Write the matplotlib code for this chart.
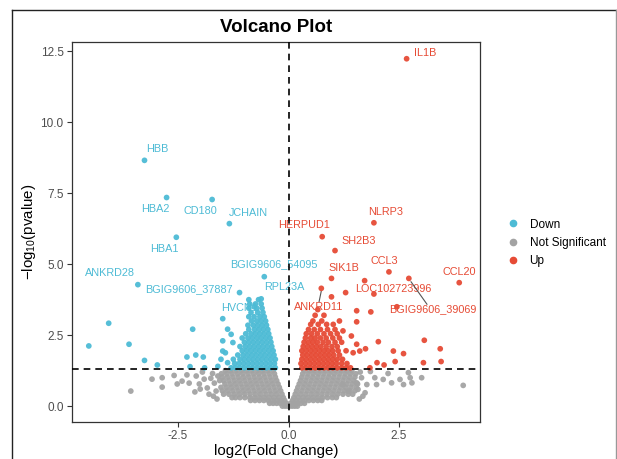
import matplotlib
matplotlib.use("Agg")
import matplotlib.pyplot as plt
from matplotlib.lines import Line2D

plt.rcParams['font.family'] = ['Liberation Sans', 'DejaVu Sans']
plt.rcParams['axes.unicode_minus'] = False
plt.rcParams['mathtext.fontset'] = 'custom'
plt.rcParams['mathtext.rm'] = 'Liberation Sans'
plt.rcParams['mathtext.it'] = 'Liberation Sans:italic'

COL_DOWN = "#4DBBD5"
COL_NS = "#A3A3A3"
COL_UP = "#E64B35"

# ---------------- data ----------------
# Not significant: dense rows (y level, x values) + scattered points
ns_row_y = [0.00, 0.10, 0.20, 0.30, 0.42, 0.54, 0.66, 0.78, 0.90, 1.02, 1.14, 1.25]
ns_row_x_left = [
    [-0.02, -0.08, -0.14],
    [-0.05, -0.12, -0.19, -0.27, -0.35, -0.43],
    [-0.09, -0.17, -0.26, -0.36, -0.46, -0.56, -0.66, -0.76, -0.86],
    [-0.12, -0.22, -0.33, -0.44, -0.55, -0.66, -0.77, -0.88, -0.99, -1.10, -1.20, -1.28],
    [-0.15, -0.27, -0.39, -0.51, -0.63, -0.75, -0.87, -0.99, -1.11, -1.23, -1.35, -1.47],
    [-0.18, -0.30, -0.42, -0.54, -0.66, -0.78, -0.90, -1.02, -1.14, -1.26, -1.38, -1.50],
    [-0.21, -0.33, -0.45, -0.57, -0.69, -0.81, -0.93, -1.05, -1.17, -1.29, -1.41, -1.53],
    [-0.24, -0.36, -0.48, -0.60, -0.72, -0.84, -0.96, -1.08, -1.20, -1.32, -1.44],
    [-0.27, -0.39, -0.51, -0.63, -0.75, -0.87, -0.99, -1.11, -1.23, -1.35, -1.47, -1.56],
    [-0.30, -0.42, -0.54, -0.66, -0.78, -0.90, -1.02, -1.14, -1.26, -1.38, -1.50],
    [-0.32, -0.44, -0.56, -0.68, -0.80, -0.92, -1.04, -1.16, -1.28, -1.40, -1.52],
    [-0.35, -0.47, -0.59, -0.71, -0.83, -0.95, -1.07, -1.19, -1.31, -1.43],
]
ns_row_x_right = [
    [0.02, 0.08, 0.14, 0.20],
    [0.05, 0.12, 0.20, 0.28, 0.36],
    [0.09, 0.17, 0.26, 0.36, 0.46, 0.56, 0.66, 0.75],
    [0.12, 0.22, 0.33, 0.44, 0.55, 0.66, 0.77, 0.88, 0.99, 1.08],
    [0.15, 0.27, 0.39, 0.51, 0.63, 0.75, 0.87, 0.99, 1.11, 1.23, 1.35, 1.45],
    [0.18, 0.30, 0.42, 0.54, 0.66, 0.78, 0.90, 1.02, 1.14, 1.26, 1.38, 1.50],
    [0.21, 0.33, 0.45, 0.57, 0.69, 0.81, 0.93, 1.05, 1.17, 1.29, 1.41, 1.53],
    [0.24, 0.36, 0.48, 0.60, 0.72, 0.84, 0.96, 1.08, 1.20, 1.32, 1.44, 1.56],
    [0.27, 0.39, 0.51, 0.63, 0.75, 0.87, 0.99, 1.11, 1.23, 1.35, 1.47],
    [0.30, 0.42, 0.54, 0.66, 0.78, 0.90, 1.02, 1.14, 1.26, 1.38, 1.50],
    [0.32, 0.44, 0.56, 0.68, 0.80, 0.92, 1.04, 1.16, 1.28, 1.40, 1.52],
    [0.35, 0.47, 0.59, 0.71, 0.83, 0.95, 1.07, 1.19, 1.31, 1.43],
]
ns_sc_x = [-3.57, -3.09, -2.86, -2.86, -2.59, -2.52, -2.41, -2.25, -2.09, -2.12, -2.02,
           -1.91, -1.84, -1.80, -1.68, -1.64, -1.60, -1.72, -1.95, -2.30, -1.76, -2.00,
           -1.70, -1.62,
           1.23, 1.35, 1.54, 1.57, 1.65, 1.73, 1.77, 1.95, 1.99, 2.14, 2.33, 2.52, 2.60,
           2.75, 2.79, 2.71, 3.01, 3.95, 1.62, 1.85, 2.25, 1.68, 1.60]
ns_sc_y = [0.53, 0.95, 1.00, 0.67, 1.08, 0.78, 0.88, 0.81, 1.06, 0.50, 0.78,
           0.95, 0.64, 0.42, 0.81, 0.53, 1.06, 1.15, 1.20, 1.10, 0.98, 0.60,
           0.35, 0.25,
           0.76, 0.53, 0.82, 0.59, 1.00, 0.47, 0.76, 1.00, 0.76, 0.94, 0.82, 0.94, 0.76,
           1.00, 0.82, 1.18, 1.00, 0.73, 1.20, 1.22, 1.15, 0.35, 0.25]

# Down-regulated: dense rows + scattered
down_row_y = [1.35, 1.50, 1.65, 1.80, 1.95, 2.10, 2.25, 2.40, 2.55, 2.70, 2.85, 3.00,
              3.15, 3.30, 3.45, 3.60, 3.75]
down_row_x = [
    [-0.30, -0.40, -0.50, -0.60, -0.70, -0.80, -0.90, -1.00, -1.10, -1.20, -1.30],
    [-0.32, -0.42, -0.52, -0.62, -0.72, -0.82, -0.92, -1.02, -1.12, -1.22],
    [-0.30, -0.40, -0.50, -0.60, -0.70, -0.80, -0.90, -1.00, -1.10, -1.25],
    [-0.33, -0.43, -0.53, -0.63, -0.73, -0.83, -0.93, -1.03, -1.15],
    [-0.35, -0.45, -0.55, -0.65, -0.75, -0.85, -0.95, -1.05],
    [-0.38, -0.48, -0.58, -0.68, -0.78, -0.88, -0.98, -1.10],
    [-0.40, -0.50, -0.60, -0.70, -0.80, -0.90, -1.00],
    [-0.42, -0.52, -0.62, -0.72, -0.82, -0.92, -1.05],
    [-0.45, -0.55, -0.65, -0.75, -0.85, -0.97],
    [-0.47, -0.57, -0.67, -0.77, -0.90],
    [-0.50, -0.60, -0.70, -0.80, -0.92],
    [-0.52, -0.62, -0.72, -0.84],
    [-0.55, -0.65, -0.78, -0.90],
    [-0.58, -0.70, -0.85],
    [-0.60, -0.72, -0.90],
    [-0.62, -0.75, -0.88],
    [-0.68, -0.90],
]
down_sc_x = [-4.52, -4.07, -3.61, -3.26, -2.97, -2.30, -2.17, -2.10, -1.93, -2.23,
             -1.49, -1.49, -1.43, -1.38, -1.38, -1.30, -1.26, -1.49, -1.53, -1.90, -1.60]
down_sc_y = [2.12, 2.92, 2.18, 1.61, 1.45, 1.73, 2.71, 1.80, 1.73, 1.39,
             3.08, 2.30, 1.88, 1.53, 2.71, 2.53, 2.24, 1.94, 1.65, 1.35, 1.40]

# Up-regulated: dense rows + scattered
up_row_y = [1.35, 1.50, 1.65, 1.80, 1.95, 2.10, 2.25, 2.40, 2.55, 2.70, 2.88, 3.00, 3.20, 3.40]
up_row_x = [
    [0.30, 0.40, 0.50, 0.60, 0.70, 0.80, 0.90, 1.00, 1.10, 1.20, 1.30, 1.40],
    [0.28, 0.38, 0.48, 0.58, 0.68, 0.78, 0.88, 0.98, 1.08, 1.20, 1.32],
    [0.30, 0.40, 0.50, 0.60, 0.70, 0.80, 0.90, 1.00, 1.10, 1.22],
    [0.32, 0.42, 0.52, 0.62, 0.72, 0.82, 0.92, 1.02, 1.15],
    [0.30, 0.40, 0.50, 0.60, 0.70, 0.80, 0.90, 1.00, 1.12, 1.30],
    [0.33, 0.43, 0.53, 0.63, 0.73, 0.85, 0.98, 1.10],
    [0.35, 0.45, 0.55, 0.65, 0.78, 0.90, 1.05, 1.20],
    [0.38, 0.50, 0.60, 0.72, 0.85, 1.00, 1.15],
    [0.40, 0.52, 0.65, 0.80, 0.95, 1.10],
    [0.45, 0.58, 0.72, 0.88, 1.05],
    [0.50, 0.67, 0.86, 1.01],
    [0.55, 0.75, 1.15],
    [0.60, 0.80],
    [0.66],
]
up_sc_x = [0.97, 1.29, 1.54, 1.86, 2.45, 1.54, 2.03, 1.74, 2.37, 2.60, 3.07, 3.43, 3.45,
           3.05, 2.41, 2.16, 1.84, 2.00, 1.42, 1.54, 1.61, 1.46, 1.23, 1.93]
up_sc_y = [3.85, 4.00, 3.36, 3.32, 3.50, 2.97, 2.27, 2.02, 1.94, 1.85, 2.32, 2.02, 1.57,
           1.53, 1.57, 1.45, 1.35, 1.53, 2.47, 2.18, 1.94, 1.88, 2.65, 3.95]

# Labelled genes
down_genes = ["HBB", "HBA2", "CD180", "JCHAIN", "HBA1", "ANKRD28",
              "BGIG9606_37887", "BGIG9606_54095", "RPL23A", "HVCN1"]
down_gx = [-3.26, -2.76, -1.73, -1.34, -2.54, -3.41, -1.11, -0.55, -0.62, -0.78]
down_gy = [8.66, 7.35, 7.28, 6.43, 5.95, 4.28, 4.00, 4.56, 3.78, 3.50]
down_lx = [-2.98, -3.02, -2.00, -0.92, -2.82, -4.03, -2.25, -0.33, -0.09, -1.11]
down_ly = [9.05, 6.96, 6.88, 6.82, 5.55, 4.69, 4.12, 5.00, 4.18, 3.45]

up_genes = ["IL1B", "NLRP3", "HERPUD1", "SH2B3", "CCL3", "SIK1B", "CCL20",
            "LOC102723996", "BGIG9606_39069", "ANKRD11"]
up_gx = [2.67, 1.93, 0.76, 1.05, 2.27, 0.97, 3.86, 1.72, 2.72, 0.74]
up_gy = [12.24, 6.46, 5.97, 5.48, 4.73, 4.50, 4.35, 4.42, 4.50, 4.15]
up_lx = [3.09, 2.20, 0.36, 1.59, 2.17, 1.25, 3.86, 2.37, 3.27, 0.69]
up_ly = [12.46, 6.84, 6.37, 5.82, 5.12, 4.88, 4.73, 4.11, 3.42, 3.48]

# leader segments (point end -> label end)
leader_x0 = [2.77, 0.74]
leader_y0 = [4.38, 4.06]
leader_x1 = [3.13, 0.69]
leader_y1 = [3.59, 3.68]

fc_cut = 0.0
p_cut = 1.301

xticks = [-2.5, 0.0, 2.5]
yticks = [0.0, 2.5, 5.0, 7.5, 10.0, 12.5]


def flatten(rows_y, rows_x):
    xs, ys = [], []
    for yv, row in zip(rows_y, rows_x):
        for xv in row:
            xs.append(xv)
            ys.append(yv)
    return xs, ys


nsl_x, nsl_y = flatten(ns_row_y, ns_row_x_left)
nsr_x, nsr_y = flatten(ns_row_y, ns_row_x_right)
ns_x = nsl_x + nsr_x + ns_sc_x
ns_y = nsl_y + nsr_y + ns_sc_y
dn_x, dn_y = flatten(down_row_y, down_row_x)
dn_x = dn_x + down_sc_x + down_gx
dn_y = dn_y + down_sc_y + down_gy
up_x, up_y = flatten(up_row_y, up_row_x)
up_x = up_x + up_sc_x + up_gx
up_y = up_y + up_sc_y + up_gy

# ---------------- figure ----------------
W, H = 617, 459
fig = plt.figure(figsize=(W / 100, H / 100), dpi=100)
ax = fig.add_axes([72 / W, 37 / H, 408 / W, 380 / H])

S = 17
ax.scatter(ns_x, ns_y, s=S, color=COL_NS, edgecolors='none', alpha=0.95, zorder=2)
ax.scatter(dn_x, dn_y, s=S, color=COL_DOWN, edgecolors='none', alpha=0.95, zorder=2)
ax.scatter(up_x, up_y, s=S, color=COL_UP, edgecolors='none', alpha=0.95, zorder=2)

ax.axvline(fc_cut, color='black', lw=1.2, ls=(0, (4, 3)), zorder=3)
ax.axhline(p_cut, color='black', lw=1.2, ls=(0, (4, 3)), zorder=3)

LFS = 7.8
for g, lx, ly in zip(down_genes, down_lx, down_ly):
    ax.text(lx, ly, g, color=COL_DOWN, fontsize=LFS, ha='center', va='center', zorder=1.5)
for g, lx, ly in zip(up_genes, up_lx, up_ly):
    ax.text(lx, ly, g, color=COL_UP, fontsize=LFS, ha='center', va='center', zorder=1.5)
for x0, y0, x1, y1 in zip(leader_x0, leader_y0, leader_x1, leader_y1):
    ax.plot([x0, x1], [y0, y1], color='#555555', lw=0.8, zorder=1.6)

ax.set_xlim(-4.9, 4.33)
ax.set_ylim(-0.56, 12.83)
ax.set_xticks(xticks)
ax.set_yticks(yticks)
ax.set_xticklabels([f"{v:.1f}" for v in xticks])
ax.set_yticklabels([f"{v:.1f}" for v in yticks])
ax.tick_params(axis='both', labelsize=8.5, labelcolor='#4D4D4D', color='#333333',
               length=3.5, width=0.8, direction='out', pad=2.5)
for sp in ax.spines.values():
    sp.set_color('#333333')
    sp.set_linewidth(0.9)

ax.set_xlabel("log2(Fold Change)", fontsize=10.8, labelpad=1)
ax.set_ylabel("$-$log$_{10}$(pvalue)", fontsize=10.8, labelpad=2)
ax.set_title("Volcano Plot", fontsize=13.5, fontweight='bold', pad=7)

handles = [Line2D([], [], marker='o', ls='none', color=c, markersize=4.5)
           for c in (COL_DOWN, COL_NS, COL_UP)]
fig.legend(handles, ["Down", "Not Significant", "Up"], loc='center left',
           bbox_to_anchor=(500 / W, 1 - 243 / H), frameon=False, fontsize=8.5,
           handlelength=1.2, handletextpad=0.8, labelspacing=0.55, borderpad=0)

# outer frame
fig.add_artist(Line2D([12 / W, 12 / W], [0, 1 - 10 / H], color='#222222', lw=1.0))
fig.add_artist(Line2D([12 / W, 616 / W], [1 - 10 / H, 1 - 10 / H], color='#222222', lw=1.0))
fig.add_artist(Line2D([616 / W, 616 / W], [0, 1 - 10 / H], color='#999999', lw=1.0))

fig.savefig("out.png", dpi=100)
